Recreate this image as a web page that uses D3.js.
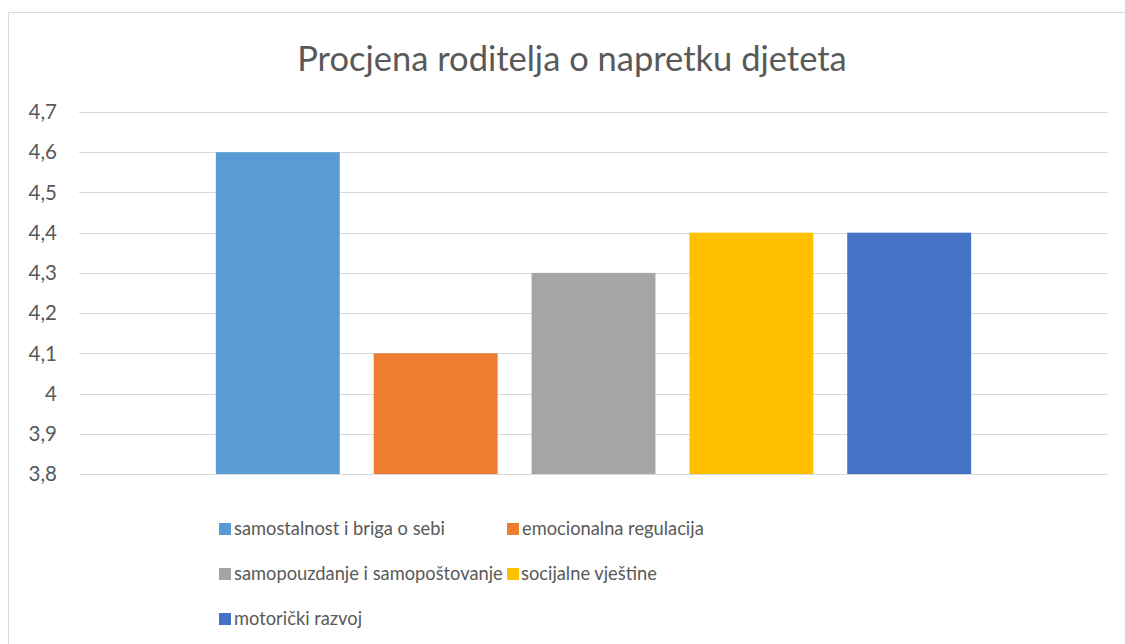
<!DOCTYPE html>
<html><head><meta charset="utf-8">
<script src="https://cdn.jsdelivr.net/npm/d3@7"></script>
<style>body{margin:0;background:#fff}svg{display:block}</style>
</head><body>
<svg id="c" width="1125" height="644"></svg>
<script>
const title = "Procjena roditelja o napretku djeteta";
const series = ["samostalnost i briga o sebi","emocionalna regulacija","samopouzdanje i samopoštovanje","socijalne vještine","motorički razvoj"];
const values = [4.6, 4.1, 4.3, 4.4, 4.4];
const colors = ["#5B9BD5","#ED7D31","#A5A5A5","#FFC000","#4472C4"];
const ticks = [3.8,3.9,4.0,4.1,4.2,4.3,4.4,4.5,4.6,4.7];

const svg = d3.select("#c");
const font = "Lato, 'Open Sans', sans-serif";
svg.append("rect").attr("x",8.5).attr("y",12.5).attr("width",1130).attr("height",650)
  .attr("fill","#fff").attr("stroke","#D9D9D9").attr("stroke-width",1);

const L=79, R=1108, T=112, B=474;
const y = d3.scaleLinear().domain([3.8,4.7]).range([B,T]);
const outer = (R-L)*0.133;
const x = d3.scaleBand().domain(series).range([L+outer, R-outer]).paddingInner(0.215).paddingOuter(0);

svg.append("g").selectAll("line").data(ticks).join("line")
  .attr("x1",L).attr("x2",R).attr("y1",d=>Math.round(y(d))+0.5).attr("y2",d=>Math.round(y(d))+0.5)
  .attr("stroke","#D9D9D9").attr("stroke-width",1);

const fmt = d => d3.format(".1~f")(d).replace(".",",");
svg.append("g").selectAll("text").data(ticks).join("text")
  .attr("x",57).attr("y",d=>y(d)).attr("dy","0.35em").attr("text-anchor","end")
  .attr("font-family",font).attr("font-size",20.5).attr("fill","#595959").text(fmt);

svg.append("g").selectAll("rect").data(series).join("rect")
  .attr("x",d=>x(d)).attr("width",x.bandwidth())
  .attr("y",(d,i)=>y(values[i])).attr("height",(d,i)=>B-y(values[i]))
  .attr("fill",(d,i)=>colors[i]);

svg.append("text").attr("x",572).attr("y",71).attr("text-anchor","middle")
  .attr("font-family",font).attr("font-size",34.5).attr("fill","#595959").text(title);

const lx=[219,507], ly=[529,574,619];
const lg = svg.append("g").selectAll("g").data(series).join("g")
  .attr("transform",(d,i)=>`translate(${lx[i%2]},${ly[Math.floor(i/2)]})`);
lg.append("rect").attr("x",0).attr("y",-6).attr("width",12).attr("height",12).attr("fill",(d,i)=>colors[i]);
lg.append("text").attr("x",(d,i)=>i===3?14:15).attr("y",0).attr("dy","0.35em")
  .attr("font-family",font).attr("font-size",18.3).attr("fill","#595959").text(d=>d);
</script>
</body></html>
